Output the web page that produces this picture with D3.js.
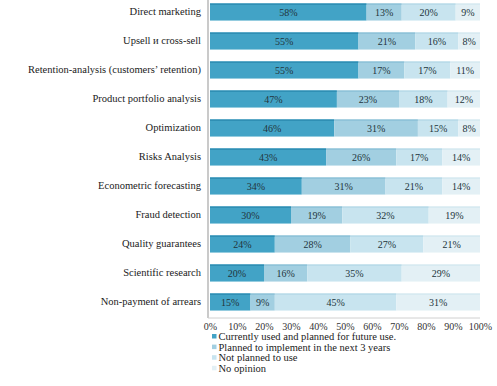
<!DOCTYPE html>
<html>
<head>
<meta charset="utf-8">
<script src="https://cdn.jsdelivr.net/npm/d3@7"></script>
<style>
  body { margin: 0; background: #fff; }
  svg text { font-family: "Liberation Serif", "DejaVu Serif", serif; }
</style>
</head>
<body>
<svg width="497" height="386"></svg>
<script>
const categories = [
  'Direct marketing',
  'Upsell \u0438 cross-sell',
  'Retention-analysis (customers\u2019 retention)',
  'Product portfolio analysis',
  'Optimization',
  'Risks Analysis',
  'Econometric forecasting',
  'Fraud detection',
  'Quality guarantees',
  'Scientific research',
  'Non-payment of arrears'
];
const currentlyUsed = [58, 55, 55, 47, 46, 43, 34, 30, 24, 20, 15];
const plannedNext3 = [13, 21, 17, 23, 31, 26, 31, 19, 28, 16, 9];
const notPlanned = [20, 16, 17, 18, 15, 17, 21, 32, 27, 35, 45];
const noOpinion = [9, 8, 11, 12, 8, 14, 14, 19, 21, 29, 31];
const seriesNames = [
  'Currently used and planned for future use.',
  'Planned to implement in the next 3 years',
  'Not planned to use',
  'No opinion'
];
const tickValues = [0, 10, 20, 30, 40, 50, 60, 70, 80, 90, 100];

const colors = ['#42a3c6', '#a2cfe1', '#c8e4ef', '#e3f0f5'];
const edge = ['#2f8fb4', '#8fc2d8', '#b9dbe8', '#d6e9f1'];
const serif = '"Liberation Serif", "DejaVu Serif", serif';

const svg = d3.select('svg');
const x = d3.scaleLinear().domain([0, 100]).range([210, 480]);
const y = d3.scaleBand().domain(categories).range([-2.5, 316.5])
  .paddingInner(0.41).paddingOuter(0.205);

const rows = categories.map((c, i) => {
  const vals = [currentlyUsed[i], plannedNext3[i], notPlanned[i], noOpinion[i]];
  let acc = 0;
  return vals.map((v, k) => {
    const seg = { cat: c, k: k, v: v, x0: acc, x1: acc + v };
    acc += v;
    return seg;
  });
});
const segs = rows.flat();

// bars
svg.append('g').selectAll('rect')
  .data(segs)
  .enter().append('rect')
  .attr('x', d => x(d.x0))
  .attr('y', d => y(d.cat))
  .attr('width', d => x(d.x1) - x(d.x0))
  .attr('height', y.bandwidth())
  .attr('fill', d => colors[d.k]);

// darker top edge like the original
svg.append('g').selectAll('rect')
  .data(segs)
  .enter().append('rect')
  .attr('x', d => x(d.x0))
  .attr('y', d => y(d.cat))
  .attr('width', d => x(d.x1) - x(d.x0))
  .attr('height', 1.5)
  .attr('fill', d => edge[d.k]);

// value labels
svg.append('g').selectAll('text')
  .data(segs)
  .enter().append('text')
  .attr('x', d => x((d.x0 + d.x1) / 2))
  .attr('y', d => y(d.cat) + y.bandwidth() / 2)
  .attr('dy', '0.35em')
  .attr('text-anchor', 'middle')
  .style('font-family', serif)
  .attr('font-size', 10)
  .attr('fill', '#22343b')
  .text(d => d.v + '%');

// category axis
const yAxis = svg.append('g')
  .attr('transform', 'translate(208,0)')
  .call(d3.axisLeft(y).tickSize(0).tickPadding(7))
  .attr('font-family', null);
yAxis.select('.domain').attr('stroke', '#b8b8b8').attr('stroke-width', 1.5)
  .attr('d', 'M0,0V318');
yAxis.selectAll('text')
  .style('font-family', serif)
  .attr('font-size', 10.5)
  .attr('fill', '#1a1a1a');

// value axis
const xAxis = svg.append('g')
  .attr('transform', 'translate(0,318)')
  .call(d3.axisBottom(x).tickValues(tickValues).tickSize(0).tickPadding(5)
    .tickFormat(d => d + '%'))
  .attr('font-family', null);
xAxis.select('.domain').attr('stroke', '#d0d0d0').attr('d', 'M208,0H480');
xAxis.selectAll('text')
  .style('font-family', serif)
  .attr('font-size', 10)
  .attr('fill', '#333');

// legend
const legend = svg.append('g').selectAll('g')
  .data(seriesNames)
  .enter().append('g')
  .attr('transform', (d, i) => `translate(212,${336.5 + i * 10.6})`);
legend.append('rect')
  .attr('x', 0).attr('y', -2.5)
  .attr('width', 4.5).attr('height', 4.5)
  .attr('fill', (d, i) => colors[i]);
legend.append('text')
  .attr('x', 6.5)
  .attr('dy', '0.35em')
  .style('font-family', serif)
  .attr('font-size', 10.5)
  .attr('fill', '#1a1a1a')
  .text(d => d);
</script>
</body>
</html>
